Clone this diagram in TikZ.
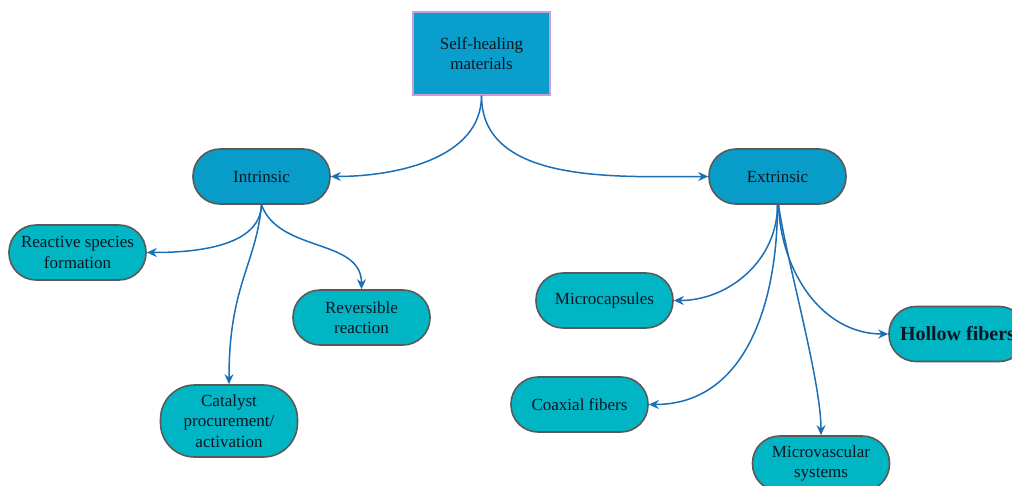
\documentclass[tikz,border=0pt]{standalone}
\usepackage{fontspec}
\setmainfont{Liberation Serif}
\usetikzlibrary{arrows.meta}
\definecolor{topfill}{RGB}{10,158,204}
\definecolor{midfill}{RGB}{8,156,200}
\definecolor{leaffill}{RGB}{0,181,196}
\definecolor{arrowcol}{RGB}{28,110,182}
\definecolor{topborder}{RGB}{200,160,215}
\definecolor{txt}{RGB}{12,22,34}
\begin{document}
\begin{tikzpicture}[x=1pt,y=-1pt,
  every node/.style={font=\fontsize{17}{20.5}\selectfont, text=txt, align=center, inner sep=0pt},
  topbox/.style={draw=topborder, fill=topfill, line width=1.4pt, minimum width=137pt, minimum height=83pt},
  pill/.style={draw=black!65, line width=1.6pt, minimum width=137pt, minimum height=55pt, rounded corners=27pt},
  midpill/.style={pill, fill=midfill},
  leafpill/.style={pill, fill=leaffill},
  conn/.style={draw=arrowcol, line width=1.5pt, -{Stealth[length=10pt,width=9pt]}}
]
\useasboundingbox (0,0) rectangle (1012,485);
\clip (0,0) rectangle (1012,485);

\node[topbox] (top) at (481.5,53.5) {Self-healing\\materials};
\node[midpill] (intr) at (261.5,176.5) {Intrinsic};
\node[midpill] (extr) at (777.5,176.5) {Extrinsic};

\node[leafpill] (react) at (77.5,252.5) {Reactive species\\formation};
\node[leafpill] (rev) at (361.5,317.5) {Reversible\\reaction};
\node[leafpill, minimum height=72pt, rounded corners=34pt] (cat) at (229,421) {Catalyst\\procurement/\\activation};

\node[leafpill] (micro) at (604.5,300.5) {Microcapsules};
\node[leafpill, font=\fontsize{20}{22}\selectfont\bfseries] (hollow) at (957.5,334) {Hollow fibers};
\node[leafpill] (coax) at (579.5,404.5) {Coaxial fibers};
\node[leafpill] (mvas) at (821,463.5) {Microvascular\\systems};

\draw[conn] (top.south) to[out=-90,in=0,looseness=0.95] (intr.east);
\draw[conn] (top.south) to[out=-90,in=180,looseness=0.95] (extr.west);

\draw[conn] (intr.south) to[out=-92,in=0,looseness=0.9] (react.east);
\draw[conn] (intr.south) to[out=-70,in=90,looseness=1] (rev.north);
\draw[conn] (intr.south) .. controls (256,265) and (229,285) .. (cat.north);

\draw[conn] (extr.south) to[out=-90,in=0,looseness=1] (micro.east);
\draw[conn] (extr.south) to[out=-90,in=0,looseness=1.05] (coax.east);
\draw[conn] ([xshift=1pt]extr.south) to[out=-88,in=180,looseness=1] (hollow.west);
\draw[conn] ([xshift=1pt]extr.south) to[out=-82,in=90,looseness=0.6] (mvas.north);
\end{tikzpicture}
\end{document}
